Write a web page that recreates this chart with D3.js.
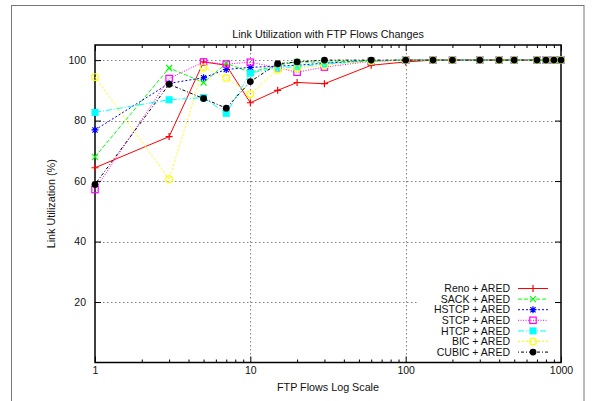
<!DOCTYPE html>
<html>
<head>
<meta charset="utf-8">
<script src="https://cdn.jsdelivr.net/npm/d3@7"></script>
<style>
  html, body { margin: 0; padding: 0; background: #fff; }
  svg { display: block; }
  text { font-family: "Liberation Sans", Arial, Helvetica, sans-serif; fill: #111; }
</style>
</head>
<body>
<svg id="chart" width="595" height="401"></svg>
<script>
// Number of FTP flows (x values, log scale)
const flows = [1, 3, 5, 7, 10, 15, 20, 30, 60, 100, 150, 200, 300, 400, 500, 700, 800, 900, 1000];

// Link utilization (%) per TCP variant
const reno  = [64.4, 74.7, 99.4, 98.3, 85.9, 90.0, 92.6, 92.2, 98.3, 99.4, 100, 100, 100, 100, 100, 100, 100, 100, 100];
const sack  = [68.0, 97.4, 92.6, 98.9, 96.0, 98.3, 99.4, 99.3, 99.8, 100, 100, 100, 100, 100, 100, 100, 100, 100, 100];
const hstcp = [76.9, 92.3, 94.2, 96.9, 97.6, 98.0, 98.3, 99.0, 99.7, 100, 100, 100, 100, 100, 100, 100, 100, 100, 100];
const stcp  = [57.2, 93.9, 99.4, 98.7, 99.3, 97.5, 96.0, 97.7, 99.6, 100, 100, 100, 100, 100, 100, 100, 100, 100, 100];
const htcp  = [82.7, 86.9, 87.6, 82.4, 95.7, 97.5, 97.8, 98.7, 99.7, 100, 100, 100, 100, 100, 100, 100, 100, 100, 100];
const bic   = [94.4, 60.6, 97.6, 94.1, 88.7, 96.8, 97.2, 98.3, 99.7, 100, 100, 100, 100, 100, 100, 100, 100, 100, 100];
const cubic = [58.9, 92.0, 87.3, 84.1, 92.9, 98.8, 99.4, 100, 100, 100, 100, 100, 100, 100, 100, 100, 100, 100, 100];

const seriesNames = ["Reno + ARED", "SACK + ARED", "HSTCP + ARED", "STCP + ARED", "HTCP + ARED", "BIC + ARED", "CUBIC + ARED"];

const xTicks = [1, 10, 100, 1000];
const yTicks = [20, 40, 60, 80, 100];

const titleText = "Link Utilization with FTP Flows Changes";
const xLabel = "FTP Flows Log Scale";
const yLabel = "Link Utilization (%)";

// ---- styling (kept apart from the data) ----
const styles = [
  { color: "#ff0000", dash: null,        marker: "plus" },
  { color: "#00ff00", dash: "4,2",       marker: "cross" },
  { color: "#0000ff", dash: "2,2",       marker: "star" },
  { color: "#ff00ff", dash: "1,1.5",     marker: "openSquare" },
  { color: "#00ffff", dash: "6,2,1,2",   marker: "square" },
  { color: "#ffff00", dash: "2,2",       marker: "openCircle" },
  { color: "#000000", dash: "1,2,3,2",   marker: "circle" }
];

const seriesValues = [reno, sack, hstcp, stcp, htcp, bic, cubic];
const series = seriesNames.map((name, i) => ({
  name,
  style: styles[i],
  points: flows.map((f, j) => ({ x: f, y: seriesValues[i][j] }))
}));

const svg = d3.select("#chart");

// outer frame
svg.append("rect")
  .attr("x", 11.5).attr("y", 5.5)
  .attr("width", 572.5).attr("height", 410)
  .attr("fill", "none").attr("stroke", "#777").attr("stroke-width", 1);

const plot = { left: 95, right: 561, top: 45, bottom: 362.5 };

const x = d3.scaleLog().domain([1, 1000]).range([plot.left, plot.right]);
const y = d3.scaleLinear().domain([0, 105]).range([plot.bottom, plot.top]);

// grid lines
const grid = svg.append("g").attr("stroke", "#808080").attr("stroke-width", 1)
  .attr("stroke-dasharray", "1.5,2.5");
yTicks.forEach(v => {
  grid.append("line")
    .attr("x1", plot.left).attr("x2", plot.right)
    .attr("y1", Math.round(y(v)) + 0.5).attr("y2", Math.round(y(v)) + 0.5);
});
[10, 100].forEach(v => {
  grid.append("line")
    .attr("x1", Math.round(x(v)) + 0.5).attr("x2", Math.round(x(v)) + 0.5)
    .attr("y1", plot.top).attr("y2", plot.bottom);
});

// opaque key background
svg.append("rect")
  .attr("x", 418).attr("y", 281)
  .attr("width", plot.right - 418 - 1).attr("height", plot.bottom - 281 - 1)
  .attr("fill", "#fff");

// axes with inward ticks (bottom/top/left/right)
const minorTicks = [];
[1, 10, 100].forEach(d => { for (let k = 2; k <= 9; k++) minorTicks.push(d * k); });

const bottomAxis = d3.axisBottom(x).tickValues(xTicks).tickFormat(d3.format("d")).tickSize(-6).tickPadding(4);
const gB = svg.append("g").attr("transform", `translate(0,${plot.bottom})`).call(bottomAxis);
const gT = svg.append("g").attr("transform", `translate(0,${plot.top})`)
  .call(d3.axisTop(x).tickValues(xTicks).tickSize(-6).tickFormat(""));
const gBm = svg.append("g").attr("transform", `translate(0,${plot.bottom})`)
  .call(d3.axisBottom(x).tickValues(minorTicks).tickSize(-3).tickFormat(""));
const gTm = svg.append("g").attr("transform", `translate(0,${plot.top})`)
  .call(d3.axisTop(x).tickValues(minorTicks).tickSize(-3).tickFormat(""));
const gL = svg.append("g").attr("transform", `translate(${plot.left},0)`)
  .call(d3.axisLeft(y).tickValues(yTicks).tickSize(-6).tickPadding(9));
const gR = svg.append("g").attr("transform", `translate(${plot.right},0)`)
  .call(d3.axisRight(y).tickValues(yTicks).tickSize(-6).tickFormat(""));

[gB, gT, gBm, gTm, gL, gR].forEach(g => {
  g.select(".domain").remove();
  g.selectAll(".tick line").attr("stroke", "#000").attr("stroke-width", 1);
  g.selectAll("text").attr("font-size", "10.5px").attr("fill", "#111")
    .attr("font-family", "'Liberation Sans', Arial, sans-serif");
});

// plot border
svg.append("rect")
  .attr("x", plot.left).attr("y", plot.top)
  .attr("width", plot.right - plot.left).attr("height", plot.bottom - plot.top)
  .attr("fill", "none").attr("stroke", "#000").attr("stroke-width", 1.5);

// marker shapes
function drawMarker(g, type, color, cx, cy) {
  const s = 3.5;
  if (type === "plus") {
    g.append("path").attr("d", `M${cx - s},${cy}H${cx + s}M${cx},${cy - s}V${cy + s}`)
      .attr("stroke", color).attr("stroke-width", 1.2).attr("fill", "none");
  } else if (type === "cross") {
    g.append("path").attr("d", `M${cx - 3},${cy - 3}L${cx + 3},${cy + 3}M${cx - 3},${cy + 3}L${cx + 3},${cy - 3}`)
      .attr("stroke", color).attr("stroke-width", 1.2).attr("fill", "none");
  } else if (type === "star") {
    g.append("path").attr("d",
      `M${cx - s},${cy}H${cx + s}M${cx},${cy - s}V${cy + s}` +
      `M${cx - 2.6},${cy - 2.6}L${cx + 2.6},${cy + 2.6}M${cx - 2.6},${cy + 2.6}L${cx + 2.6},${cy - 2.6}`)
      .attr("stroke", color).attr("stroke-width", 1.2).attr("fill", "none");
  } else if (type === "openSquare") {
    g.append("rect").attr("x", cx - 3.2).attr("y", cy - 3.2).attr("width", 6.4).attr("height", 6.4)
      .attr("fill", "none").attr("stroke", color).attr("stroke-width", 1.2);
  } else if (type === "square") {
    g.append("rect").attr("x", cx - 3.5).attr("y", cy - 3.5).attr("width", 7).attr("height", 7)
      .attr("fill", color);
  } else if (type === "openCircle") {
    g.append("circle").attr("cx", cx).attr("cy", cy).attr("r", 3.3)
      .attr("fill", "none").attr("stroke", color).attr("stroke-width", 1.2);
  } else if (type === "circle") {
    g.append("circle").attr("cx", cx).attr("cy", cy).attr("r", 3.4).attr("fill", color);
  }
}

// series lines and markers
const line = d3.line().x(d => x(d.x)).y(d => y(d.y));
series.forEach(s => {
  const g = svg.append("g");
  g.append("path").datum(s.points)
    .attr("d", line)
    .attr("fill", "none")
    .attr("stroke", s.style.color)
    .attr("stroke-width", 1)
    .attr("stroke-dasharray", s.style.dash);
  s.points.forEach(p => drawMarker(g, s.style.marker, s.style.color, x(p.x), y(p.y)));
});

// legend
const legend = svg.append("g");
const rowY0 = 288.5, rowStep = 10.6;
series.forEach((s, i) => {
  const ry = rowY0 + i * rowStep;
  legend.append("text")
    .attr("x", 510).attr("y", ry).attr("dy", "0.35em")
    .attr("text-anchor", "end").attr("font-size", "10.5px")
    .text(s.name);
  legend.append("line")
    .attr("x1", 518).attr("x2", 548).attr("y1", ry).attr("y2", ry)
    .attr("stroke", s.style.color).attr("stroke-width", 1)
    .attr("stroke-dasharray", s.style.dash);
  drawMarker(legend, s.style.marker, s.style.color, 533, ry);
});

// title and axis labels
svg.append("text").attr("x", 328).attr("y", 38).attr("text-anchor", "middle")
  .attr("font-size", "10.75px").text(titleText);
svg.append("text").attr("x", 328).attr("y", 391).attr("text-anchor", "middle")
  .attr("font-size", "10.75px").text(xLabel);
svg.append("text").attr("transform", `translate(55,${(plot.top + plot.bottom) / 2}) rotate(-90)`)
  .attr("text-anchor", "middle").attr("font-size", "10.75px").text(yLabel);
</script>
</body>
</html>
